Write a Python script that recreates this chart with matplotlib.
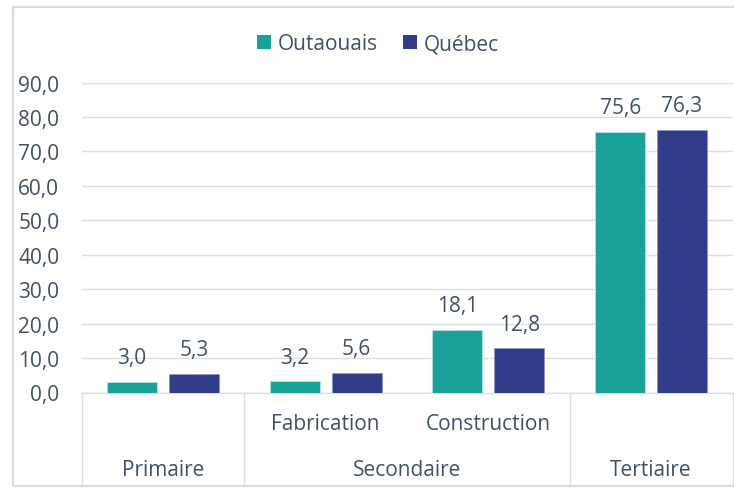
import matplotlib.pyplot as plt
from matplotlib.patches import Patch, Rectangle
from matplotlib.lines import Line2D
from matplotlib.ticker import FuncFormatter, MultipleLocator

plt.rcParams['font.family'] = ['Open Sans', 'DejaVu Sans']

# Données
sous_categories = ['', 'Fabrication', 'Construction', '']
groupes = ['Primaire', 'Secondaire', 'Tertiaire']
groupes_taille = [1, 2, 1]
series = ['Outaouais', 'Québec']
outaouais = [3.0, 3.2, 18.1, 75.6]
quebec = [5.3, 5.6, 12.8, 76.3]

TEAL = '#1AA19A'
NAVY = '#313C8A'
TEXTE = '#415066'
GRILLE = '#D9DEE7'
FS = 15

W, H = 734, 489
fig = plt.figure(figsize=(W / 100, H / 100), dpi=100, facecolor='white')

# cadre du graphique
fig.patches.append(Rectangle((13 / W, 1 - 487 / H), (W + 5 - 13) / W, (487 - 8) / H,
                             transform=fig.transFigure, fill=False,
                             edgecolor='#D6DCE5', linewidth=1.6))

x0, x1, ytop, ybot = 81.5, 732.5, 83.5, 393.5
ax = fig.add_axes([x0 / W, 1 - ybot / H, (x1 - x0) / W, (ybot - ytop) / H])

n = len(sous_categories)
pos = list(range(n))
dx, bw = 0.19, 0.307
b1 = ax.bar([p - dx for p in pos], outaouais, bw, color=TEAL,
            edgecolor='#BFE6E3', linewidth=0.5, zorder=3)
b2 = ax.bar([p + dx for p in pos], quebec, bw, color=NAVY,
            edgecolor='#8E95C4', linewidth=0.5, zorder=3)

fmt = lambda v: f'{v:.1f}'.replace('.', ',')
for bars, vals in ((b1, outaouais), (b2, quebec)):
    for b, v in zip(bars, vals):
        ax.annotate(fmt(v), (b.get_x() + b.get_width() / 2, v),
                    xytext=(0, 10), textcoords='offset points',
                    ha='center', va='bottom', fontsize=FS, color=TEXTE)

ax.set_ylim(0, 90)
ax.set_xlim(-0.5, n - 0.5)
ax.yaxis.set_major_locator(MultipleLocator(10))
ax.yaxis.set_major_formatter(FuncFormatter(lambda v, p: fmt(v)))
ax.tick_params(axis='y', length=0, pad=16, labelsize=FS, labelcolor=TEXTE)
ax.set_xticks([])
ax.grid(axis='y', color=GRILLE, linewidth=1.0, zorder=0)
for s in ['top', 'right', 'left']:
    ax.spines[s].set_visible(False)
ax.spines['bottom'].set_color(GRILLE)
ax.spines['bottom'].set_linewidth(1.0)

# axe des catégories à deux niveaux
tr = ax.get_xaxis_transform()
y_bas = -(487 - ybot) / (ybot - ytop)
for i, lab in enumerate(sous_categories):
    if lab:
        ax.text(i, -0.10, lab, transform=tr, ha='center', va='center',
                fontsize=FS, color=TEXTE)
debut = -0.5
bords = [debut]
for g, t in zip(groupes, groupes_taille):
    ax.text(debut + t / 2, -0.247, g, transform=tr, ha='center', va='center',
            fontsize=FS, color=TEXTE)
    debut += t
    bords.append(debut)
for b in bords:
    ax.add_line(Line2D([b, b], [0, y_bas], transform=tr, color=GRILLE,
                       linewidth=1.0, clip_on=False))

handles = [Patch(facecolor=TEAL), Patch(facecolor=NAVY)]
fig.legend(handles, series, loc='center', bbox_to_anchor=(378 / W, 1 - 45 / H),
           ncol=2, frameon=False, fontsize=FS, labelcolor=TEXTE,
           handlelength=0.65, handleheight=0.65, handletextpad=0.35,
           columnspacing=1.2)

plt.savefig('out.png', dpi=100, facecolor='white')
